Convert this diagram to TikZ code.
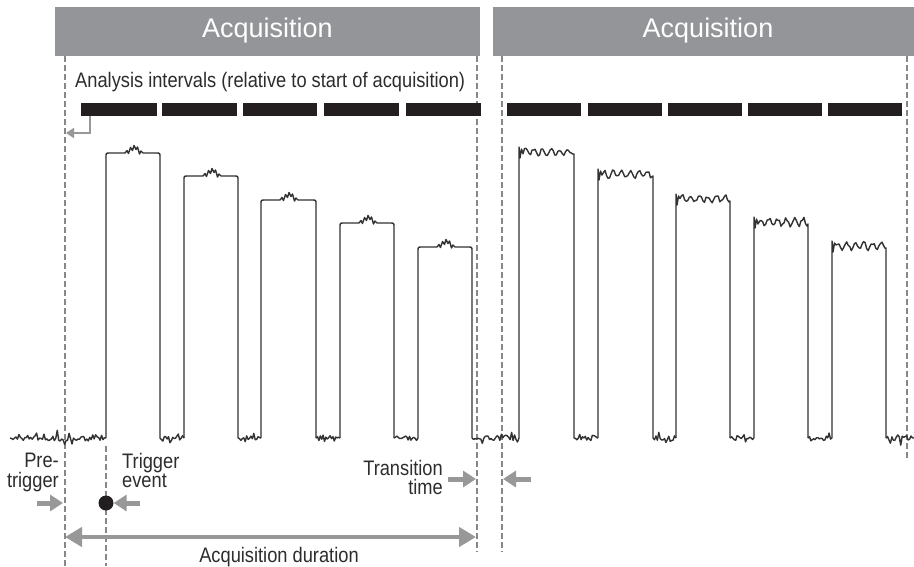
\documentclass[tikz,border=0pt]{standalone}
\usepackage{fontspec}
\setmainfont{Liberation Sans}[FakeStretch=0.87]
\newfontfamily\headfont{Liberation Sans}
\usetikzlibrary{arrows.meta}

\definecolor{hdrgray}{RGB}{147,149,152}
\definecolor{arrgray}{RGB}{152,152,152}
\definecolor{dashgray}{RGB}{135,135,135}
\definecolor{ink}{RGB}{35,31,32}
\definecolor{wavec}{RGB}{50,50,50}
\definecolor{txt}{RGB}{45,45,45}

% noisy baseline between x=#1 and x=#2
\newcommand\basenoise[2]{%
  \pgfmathtruncatemacro\nsmp{(#2-#1)/1.5}%
  \draw[wave] (#1,438) -- plot[domain=#1+1.5:#2-1.5,samples=\nsmp]
    (\x,{438+2.6*rand+8*rand*rand*rand}) -- (#2,438);}

% clean pulse with rounded shoulders and a small glitch on top
\newcommand\cleanpulse[3]{%
  \draw[wave] (#1,438) -- (#1,#3+4) .. controls (#1,#3) .. (#1+4,#3) -- (#1+19,#3)
    -- ++(2,-2.5) -- ++(1.5,3) -- ++(2,-6) -- ++(2,3) -- ++(1.5,-5)
    -- ++(2,4) -- ++(1.5,-2.5) -- ++(2,7) -- ++(1.5,-3) -- ++(2,2)
    -- (#2-4,#3) .. controls (#2,#3) .. (#2,#3+4) -- (#2,438);}

% pulse with noise all along its top
\newcommand\noisypulse[3]{%
  \pgfmathtruncatemacro\nsmp{(#2-#1-4)/1.5}%
  \draw[wave] (#1,438) -- (#1,#3-5) -- (#1+1,#3+6) -- (#1+2.5,#3-3)
    -- plot[domain=#1+4:#2-1,samples=\nsmp] (\x,{#3+3.2*sin(42*(\x-#1))+1.8*rand})
    -- (#2,#3+2) -- (#2,438);}

\begin{document}
\begin{tikzpicture}[x=1pt,y=-1pt,
  wave/.style={draw=wavec,line width=1.4pt,line join=round},
  guideline/.style={draw=dashgray,line width=1.6pt,dash pattern=on 6pt off 3pt},
  interval/.style={fill=ink},
  hdrfill/.style={fill=hdrgray},
  hdrtext/.style={text=white,font=\headfont\fontsize{27}{30}\selectfont,inner sep=0pt},
  lbl/.style={text=txt,font=\fontsize{21}{19.5}\selectfont,inner sep=0pt},
  pointer/.style={draw=arrgray,line width=5pt,-{Triangle[length=13pt,width=16pt]}},
  spanarrow/.style={draw=arrgray,line width=4.5pt,
    {Triangle[length=17pt,width=19pt]}-{Triangle[length=17pt,width=19pt]}},
  backarrow/.style={draw=arrgray,line width=2.5pt,-{Triangle[length=8pt,width=10pt]}},
]
\pgfmathsetseed{7}
\useasboundingbox (0,0) rectangle (914,566);
\fill[white] (0,0) rectangle (914,566);

% acquisition headers
\fill[hdrfill] (55,7) rectangle (480,56);
\fill[hdrfill] (493,7) rectangle (914,56);
\node[hdrtext,anchor=base] (acqA) at (267.5,37) {Acquisition};
\node[hdrtext,anchor=base] (acqB) at (708,37) {Acquisition};

% acquisition boundaries and trigger line
\coordinate (aStartTop) at (65,56);   \coordinate (aStartBot) at (65,566);
\coordinate (aEndTop)   at (477,56);  \coordinate (aEndBot)   at (477,552);
\coordinate (bStartTop) at (502,56);  \coordinate (bStartBot) at (502,552);
\coordinate (bEndTop)   at (907,56);  \coordinate (bEndBot)   at (907,458);
\coordinate (trigTop)   at (106,446); \coordinate (trigBot)   at (106,566);
\draw[guideline] (aStartTop) -- (aStartBot);
\draw[guideline] (aEndTop) -- (aEndBot);
\draw[guideline] (bStartTop) -- (bStartBot);
\draw[guideline] (bEndTop) -- (bEndBot);
\draw[guideline] (trigTop) -- (trigBot);

% analysis intervals
\node[lbl,anchor=base west] (intTitle) at (75,87.5)
  {Analysis intervals (relative to start of acquisition)};
\foreach \a/\b in {81/157,162/237,243/317,324/399,406/481,
                   507/581,588/662,668/742,748/822,828/902}
  \fill[interval] (\a,103) rectangle (\b,115.5);
\coordinate (barFoot) at (90,115.5);
\coordinate (barBend) at (90,133);
\coordinate (barBack) at (66,133);
\draw[backarrow] (barFoot) -- (barBend) -- (barBack);

% measured signal
\basenoise{10}{106}
\cleanpulse{106}{160}{153}
\basenoise{160}{184}
\cleanpulse{184}{238}{176}
\basenoise{238}{261}
\cleanpulse{261}{316}{200}
\basenoise{316}{340}
\cleanpulse{340}{394}{223}
\basenoise{394}{418}
\cleanpulse{418}{472}{247}
\basenoise{472}{519}
\noisypulse{519}{574}{152}
\basenoise{574}{598}
\noisypulse{598}{653}{174}
\basenoise{653}{676}
\noisypulse{676}{730}{199}
\basenoise{730}{754}
\noisypulse{754}{808}{222}
\basenoise{808}{832}
\noisypulse{832}{886}{246}
\basenoise{886}{914}

% annotations
\node[lbl,anchor=north east,align=right] (preLbl) at (59,453) {Pre-\\trigger};
\node[lbl,anchor=north west,align=left] (trigLbl) at (122,453) {Trigger\\event};
\node[lbl,anchor=north east,align=right] (transLbl) at (443,460) {Transition\\time};
\node[lbl,anchor=base] (durLbl) at (279,562) {Acquisition duration};

\node[circle,fill=ink,minimum size=15pt,inner sep=0pt] (trigDot) at (106,503) {};
\coordinate (preTail) at (37,503);  \coordinate (preTip) at (63,503);
\coordinate (trigTail) at (140,503);
\coordinate (tlTail) at (448,479);  \coordinate (tlTip) at (476,479);
\coordinate (trTail) at (531,479);  \coordinate (trTip) at (503,479);
\coordinate (durL) at (65,537);     \coordinate (durR) at (476,537);
\draw[pointer] (preTail) -- (preTip);
\draw[pointer] (trigTail) -- (trigDot.east);
\draw[pointer] (tlTail) -- (tlTip);
\draw[pointer] (trTail) -- (trTip);
\draw[spanarrow] (durL) -- (durR);
\end{tikzpicture}
\end{document}
